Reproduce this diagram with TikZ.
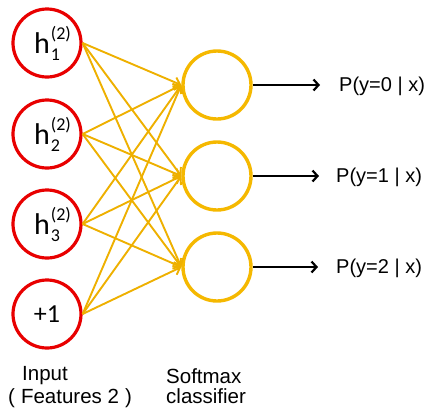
\documentclass[tikz,border=0pt]{standalone}
\usepackage{fontspec}
\setmainfont{Liberation Sans}
\newfontfamily\calib{Carlito}
\usetikzlibrary{arrows.meta}
\definecolor{inred}{RGB}{232,0,0}
\definecolor{outgold}{RGB}{245,184,0}
\definecolor{wgold}{RGB}{238,176,0}
\newcommand{\hunit}[1]{{\calib\fontsize{30}{30}\selectfont h\kern1pt{\fontsize{18}{18}\selectfont\rlap{\raisebox{14pt}{(2)}}\raisebox{-7pt}{#1}}}}
\begin{document}
\begin{tikzpicture}[x=1pt,y=-1pt,
  inunit/.style={circle,draw=inred,line width=3.2pt,fill=white,minimum size=68pt,inner sep=0pt},
  outunit/.style={circle,draw=outgold,line width=3.4pt,fill=white,minimum size=68pt,inner sep=0pt},
  weight/.style={draw=wgold,line width=1.9pt,-{Straight Barb[length=6pt,width=10pt,line width=1.9pt]}},
  outarrow/.style={draw=black,line width=2.2pt,-{Straight Barb[length=5pt,width=11pt,line width=2.2pt]}},
  lbl/.style={font=\fontsize{20.5}{20.5}\selectfont,inner sep=0pt},
  plbl/.style={font=\fontsize{20}{20}\selectfont,inner sep=0pt,anchor=west}]
\useasboundingbox (0,0) rectangle (428,408);

% input layer
\node[inunit] (i1) at (47,43) {\hunit{1}};
\node[inunit] (i2) at (47,134) {\hunit{2}};
\node[inunit] (i3) at (47,224) {\hunit{3}};
\node[inunit] (i4) at (47,314) {{\calib\fontsize{26}{26}\selectfont +1}};

% softmax layer
\node[outunit] (o1) at (217,85) {};
\node[outunit] (o2) at (217,176) {};
\node[outunit] (o3) at (217,267) {};

% fully connected weights
\foreach \i in {1,2,3,4}
  \foreach \o in {1,2,3}
    \draw[weight] (i\i.east) -- (o\o.west);

% outputs
\coordinate (e1) at (320,85);
\coordinate (e2) at (319,176);
\coordinate (e3) at (318,267);
\draw[outarrow] (o1.east) -- (e1);
\draw[outarrow] (o2.east) -- (e2);
\draw[outarrow] (o3.east) -- (e3);
\node[plbl] (p1) at (339,86) {P(y=0 | x)};
\node[plbl] (p2) at (336,177) {P(y=1 | x)};
\node[plbl] (p3) at (336,268) {P(y=2 | x)};

% captions
\node[lbl,anchor=base] (cin) at (45,380) {Input};
\node[lbl,anchor=base west] (cfeat) at (8,403) {(\hspace{6pt}Features 2\hspace{6pt})};
\node[lbl,anchor=base west] (csm) at (166,383) {Softmax};
\node[lbl,anchor=base west] (ccl) at (166,403) {classifier};
\end{tikzpicture}
\end{document}
